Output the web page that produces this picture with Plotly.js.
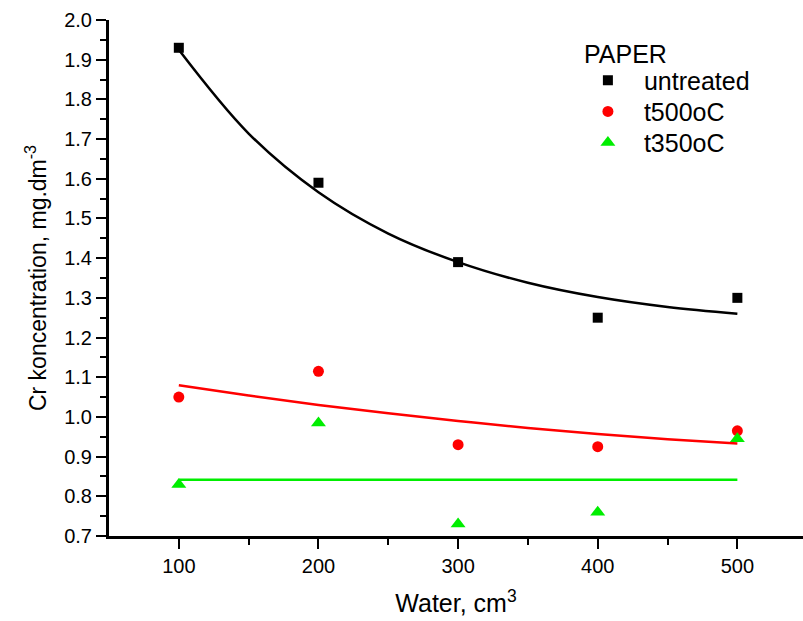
<!DOCTYPE html>
<html>
<head>
<meta charset="utf-8">
<script src="https://cdn.plot.ly/plotly-3.0.1.min.js"></script>
<style>html,body{margin:0;padding:0;background:#fff;}#chart{width:803px;height:621px;}</style>
</head>
<body>
<div id="chart"></div>
<script>
// Water volume (cm3) for each measurement
const water = [100, 200, 300, 400, 500];

// Measured Cr concentration, mg.dm-3
const untreated = [1.93, 1.59, 1.39, 1.25, 1.30];
const t500 = [1.05, 1.115, 0.93, 0.925, 0.965];
const t350 = [0.83, 0.985, 0.73, 0.76, 0.945];

// Fitted trend curves, sampled along the water axis
const fitWater = [100, 150, 200, 250, 300, 350, 400, 450, 500];
const fitUntreated = [1.925, 1.714, 1.566, 1.462, 1.39, 1.338, 1.302, 1.277, 1.26];
const fitT500 = [1.08, 1.054, 1.03, 1.009, 0.99, 0.972, 0.957, 0.944, 0.933];
const fitT350 = [0.842, 0.842, 0.842, 0.842, 0.842, 0.842, 0.842, 0.842, 0.842];

const seriesNames = ['untreated', 't500oC', 't350oC'];
const legendHeading = 'PAPER';
const colors = ['#000000', '#ff0000', '#00ee00'];

const font = 'Liberation Sans, Arial, sans-serif';

const traces = [
  {x: water, y: untreated, name: seriesNames[0], mode: 'markers', type: 'scatter', legend: 'legend',
   marker: {symbol: 'square', size: 10, color: colors[0]}},
  {x: water, y: t500, name: seriesNames[1], mode: 'markers', type: 'scatter', legend: 'legend2',
   marker: {symbol: 'circle', size: 11, color: colors[1]}},
  {x: water, y: t350, name: seriesNames[2], mode: 'markers', type: 'scatter', legend: 'legend3',
   marker: {symbol: 'triangle-up', size: 13, color: colors[2]}},
  {x: fitWater, y: fitUntreated, mode: 'lines', type: 'scatter', showlegend: false,
   line: {color: colors[0], width: 2.5, shape: 'spline'}, hoverinfo: 'skip'},
  {x: fitWater, y: fitT500, mode: 'lines', type: 'scatter', showlegend: false,
   line: {color: colors[1], width: 2.5, shape: 'spline'}, hoverinfo: 'skip'},
  {x: fitWater, y: fitT350, mode: 'lines', type: 'scatter', showlegend: false,
   line: {color: colors[2], width: 2.5}, hoverinfo: 'skip'}
];

// one single-entry legend per series, stacked under the heading
function legendBox(y) {
  return {
    x: 0.667, y: y, xanchor: 'left', yanchor: 'top',
    bgcolor: 'rgba(0,0,0,0)', borderwidth: 0,
    font: {family: font, size: 25, color: '#000'},
    itemwidth: 62
  };
}

const layout = {
  width: 803, height: 621,
  margin: {l: 109, r: 0, t: 20, b: 85},
  paper_bgcolor: '#fff', plot_bgcolor: '#fff',
  font: {family: font, size: 20, color: '#000'},
  showlegend: true,
  legend: legendBox(0.9271),
  legend2: legendBox(0.8670),
  legend3: legendBox(0.8069),
  annotations: [{
    text: legendHeading, xref: 'paper', yref: 'paper',
    x: 0.681, y: 0.935, xanchor: 'left', yanchor: 'middle',
    showarrow: false, font: {family: font, size: 25, color: '#000'}
  }],
  xaxis: {
    range: [50, 547], showgrid: false, zeroline: false,
    showline: true, linecolor: '#000', linewidth: 3,
    ticks: 'outside', ticklen: 10, tickwidth: 2, tickcolor: '#000',
    tickmode: 'array', tickvals: [100, 200, 300, 400, 500],
    minor: {tickmode: 'array', tickvals: [150, 250, 350, 450], ticks: 'outside', ticklen: 6, tickwidth: 2, tickcolor: '#000'},
    tickfont: {family: font, size: 20},
    title: {text: 'Water, cm<sup>3</sup>', font: {family: font, size: 25}, standoff: 19}
  },
  yaxis: {
    range: [0.7, 2.0], showgrid: false, zeroline: false,
    showline: true, linecolor: '#000', linewidth: 3,
    ticks: 'outside', ticklen: 10, tickwidth: 2, tickcolor: '#000',
    dtick: 0.1, tick0: 0, tickformat: '.1f',
    minor: {dtick: 0.05, ticks: 'outside', ticklen: 6, tickwidth: 2, tickcolor: '#000'},
    tickfont: {family: font, size: 20},
    title: {text: 'Cr koncentration, mg.dm<sup>-3</sup>', font: {family: font, size: 23}, standoff: 12}
  }
};

Plotly.newPlot('chart', traces, layout, {displayModeBar: false, staticPlot: true});
</script>
</body>
</html>
